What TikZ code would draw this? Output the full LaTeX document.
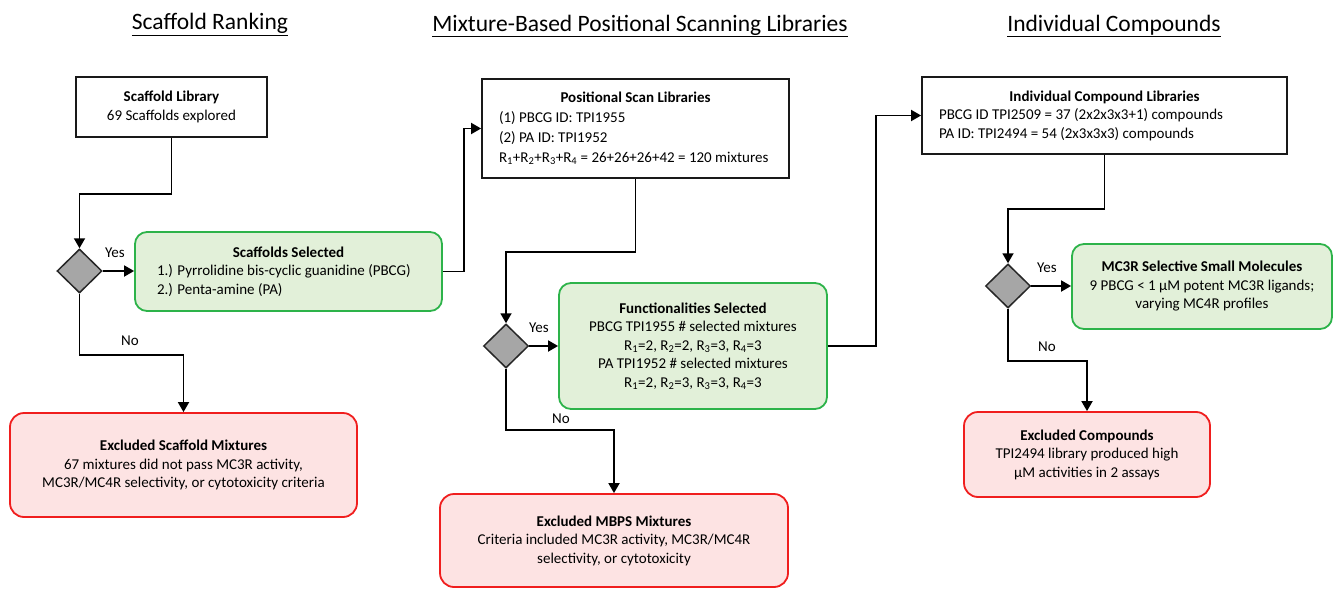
\documentclass[tikz,border=0pt]{standalone}
\usepackage{fontspec}
\setmainfont{Carlito}
\usetikzlibrary{arrows.meta,shapes.geometric}
\definecolor{gfill}{HTML}{E2F0D9}
\definecolor{gline}{HTML}{2DB34A}
\definecolor{rfill}{HTML}{FDE3E3}
\definecolor{rline}{HTML}{F01E1E}
\definecolor{dfill}{HTML}{A6A6A6}
\newcommand{\hd}[1]{\makebox[\hsize][c]{\bfseries #1}\\}
\begin{document}
\begin{tikzpicture}[x=1pt,y=-1pt,
  every node/.style={font=\fontsize{15}{18.5}\selectfont},
  plainbox/.style={draw=black!90,line width=1.8pt,rectangle,inner sep=0pt},
  greenbox/.style={draw=gline,fill=gfill,line width=1.8pt,rounded corners=12pt,inner sep=0pt},
  redbox/.style={draw=rline,fill=rfill,line width=1.8pt,rounded corners=14pt,inner sep=0pt,align=center},
  decision/.style={diamond,draw=black!85,fill=dfill,line width=1.5pt,minimum width=45pt,minimum height=44pt,inner sep=0pt},
  conn/.style={line width=1.8pt,-{Triangle[length=10pt,width=11pt]}},
  lbl/.style={inner sep=0pt,font=\fontsize{15}{17}\selectfont},
  title/.style={inner sep=0pt,anchor=base,font=\fontsize{23.5}{27}\selectfont}
]
\useasboundingbox (0,0) rectangle (1334,589);

% titles
\node[title] (t1) at (210,30) {\underline{Scaffold Ranking}};
\node[title] (t2) at (640,31) {\underline{Mixture-Based Positional Scanning Libraries}};
\node[title] (t3) at (1114,31) {\underline{Individual Compounds}};

% column 1
\node[plainbox,minimum width=191pt,minimum height=60pt,align=center] (sl) at (171.5,107)
  {\textbf{Scaffold Library}\\69 Scaffolds explored};
\node[decision] (d1) at (79.5,271) {};
\node[greenbox,text width=263pt,inner xsep=22pt,minimum height=79pt,align=flush left] (ss) at (288.5,271.5)
  {\hd{Scaffolds Selected}1.) Pyrrolidine bis-cyclic guanidine (PBCG)\\2.) Penta-amine (PA)};
\node[redbox,minimum width=347pt,minimum height=104pt] (ex1) at (183.5,465)
  {\textbf{Excluded Scaffold Mixtures}\\67 mixtures did not pass MC3R activity,\\MC3R/MC4R selectivity, or cytotoxicity criteria};

% column 2
\node[plainbox,text width=273pt,inner xsep=17pt,minimum height=99pt,align=flush left,
  font=\fontsize{15}{19.8}\selectfont] (ps) at (635.5,128.5)
  {\hd{Positional Scan Libraries}(1) PBCG ID: TPI1955\\(2) PA ID: TPI1952\\
   R\textsubscript{1}+R\textsubscript{2}+R\textsubscript{3}+R\textsubscript{4} = 26+26+26+42 = 120 mixtures};
\node[decision] (d2) at (506,346) {};
\node[greenbox,minimum width=268pt,minimum height=126pt,align=center] (fs) at (693,346)
  {\textbf{Functionalities Selected}\\PBCG TPI1955 \# selected mixtures\\
   R\textsubscript{1}=2, R\textsubscript{2}=2, R\textsubscript{3}=3, R\textsubscript{4}=3\\
   PA TPI1952 \# selected mixtures\\
   R\textsubscript{1}=2, R\textsubscript{2}=3, R\textsubscript{3}=3, R\textsubscript{4}=3};
\node[redbox,minimum width=348pt,minimum height=93pt] (ex2) at (614,540.5)
  {\textbf{Excluded MBPS Mixtures}\\Criteria included MC3R activity, MC3R/MC4R\\selectivity, or cytotoxicity};

% column 3
\node[plainbox,text width=331pt,inner xsep=17pt,minimum height=77pt,align=flush left] (ic) at (1104.5,115.5)
  {\hd{Individual Compound Libraries}PBCG ID TPI2509 = 37 (2x2x3x3+1) compounds\\PA ID: TPI2494 = 54 (2x3x3x3) compounds};
\node[decision] (d3) at (1008,286) {};
\node[greenbox,minimum width=260pt,minimum height=85pt,align=center] (mc) at (1202,286.5)
  {\textbf{MC3R Selective Small Molecules}\\9 PBCG < 1 µM potent MC3R ligands;\\varying MC4R profiles};
\node[redbox,minimum width=246pt,minimum height=85pt] (ex3) at (1087,454.5)
  {\textbf{Excluded Compounds}\\TPI2494 library produced high\\µM activities in 2 assays};

% connectors
\draw[conn] (sl.south) -- ++(0,56) -| (d1.north);
\draw[conn] (d1.east) -- (ss.west |- d1.east);
\draw[conn] (d1.south) -- ++(0,61) -| (ex1.north);
\draw[conn] (ss.east) -- ++(21,0) |- (ps.west);
\draw[conn] (ps.south) -- ++(0,73) -| (d2.north);
\draw[conn] (d2.east) -- (fs.west);
\draw[conn] (d2.south) -- ++(0,61) -| (ex2.north);
\draw[conn] (fs.east) -- ++(48,0) |- (ic.west);
\draw[conn] (ic.south) -- ++(0,54) -| (d3.north);
\draw[conn] (d3.east) -- (mc.west |- d3.east);
\draw[conn] (d3.south) -- ++(0,52) -| (ex3.north);

% labels
\node[lbl] (y1) at (115,253) {Yes};
\node[lbl] (n1) at (130,341) {No};
\node[lbl] (y2) at (539,328) {Yes};
\node[lbl] (n2) at (561,419) {No};
\node[lbl] (y3) at (1047,268) {Yes};
\node[lbl] (n3) at (1047,347) {No};
\end{tikzpicture}
\end{document}
